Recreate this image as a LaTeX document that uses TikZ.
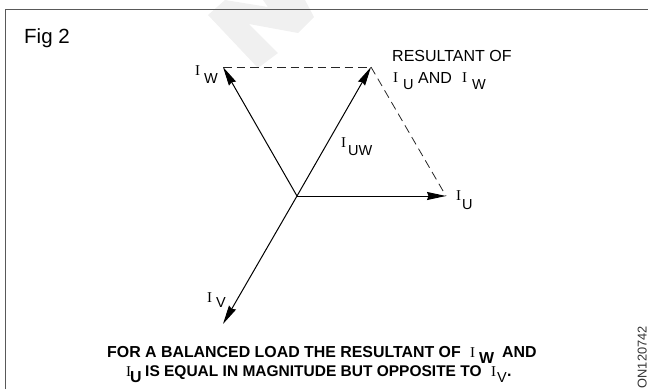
\documentclass[tikz,border=0pt]{standalone}
\usepackage{fontspec}
\setmainfont{Liberation Sans}
\newfontfamily\serifI{Liberation Serif}
\usetikzlibrary{arrows.meta}
\tikzset{
  vec/.style={line width=1pt,-{Stealth[length=19pt,width=8pt,inset=1.5pt]}},
  dash line/.style={line width=0.8pt,dash pattern=on 8.5pt off 5pt,draw=black!85},
  lbl/.style={inner sep=0pt,anchor=base west,font=\fontsize{14.5}{16}\selectfont},
  ii/.style={inner sep=0pt,anchor=base west,font=\fontsize{15}{16}\selectfont\serifI},
  txt/.style={inner sep=0pt,anchor=base west,font=\fontsize{16}{18}\selectfont},
  capt/.style={inner sep=0pt,anchor=base west,font=\fontsize{15.9}{18}\selectfont\bfseries},
  captb/.style={inner sep=0pt,anchor=base west,font=\fontsize{15.5}{18}\selectfont\bfseries},
}
\begin{document}
\begin{tikzpicture}[x=1pt,y=-1pt]
\useasboundingbox (0,0) rectangle (648,389);
\fill[black!6] (208,15) -- (225,0) -- (268,7) -- (263,0) -- (305,0) -- (314,17) -- (298,33) -- (249,24) -- (278,53) -- (258,68) -- cycle;
\draw[line width=1pt,draw=black!65] (5,389) -- (5,9) -- (648,9);
\coordinate (O) at (297,196);
\coordinate (W) at (223,67);
\coordinate (R) at (371,67);
\coordinate (U) at (446,196);
\coordinate (V) at (223,324);
\draw[vec] (O) -- (W);
\draw[vec] (O) -- (R);
\draw[vec] (O) -- (U);
\draw[vec] (O) -- (V);
\draw[dash line] (W) -- (R);
\draw[dash line] (R) -- (U);
\node[inner sep=0pt,anchor=base west,font=\fontsize{20.5}{22}\selectfont] (fig) at (24,43) {Fig 2};
\node[ii] (iw) at (195,75) {I};
\node[lbl] (iwb) at (204,83) {W};
\node[ii] (iuw) at (341,147) {I};
\node[lbl] (iuwb) at (348,155) {UW};
\node[ii] (iu) at (456,200) {I};
\node[lbl] (iub) at (462,209) {U};
\node[ii] (iv) at (207,302) {I};
\node[lbl] (ivb) at (216,307) {V};
\node[txt] (res1) at (392,61) {RESULTANT OF};
\node[ii] (r2a) at (393,82) {I};
\node[lbl] (r2b) at (403,89) {U};
\node[txt] (r2c) at (418,83) {AND};
\node[ii] (r2d) at (462,82) {I};
\node[lbl] (r2e) at (472,89) {W};
\node[capt] (c1) at (107,357) {FOR A BALANCED LOAD THE RESULTANT OF};
\node[ii] (c1i) at (470,357) {I};
\node[capt] (c1w) at (479,363) {W};
\node[capt] (c1e) at (502,357) {AND};
\node[ii] (c2i) at (126,376) {I};
\node[capt] (c2u) at (130,382) {U};
\node[captb] (c2) at (145,376) {IS EQUAL IN MAGNITUDE BUT OPPOSITE TO};
\node[ii] (c2j) at (491,376) {I};
\node[lbl] (c2v) at (497,382) {V};
\node[capt] (c2e) at (507,376) {.};
\node[inner sep=0pt,anchor=base west,rotate=90,font=\fontsize{12.8}{14}\selectfont,text=black!80] (code) at (646.5,388.5) {ON120742};
\end{tikzpicture}
\end{document}
